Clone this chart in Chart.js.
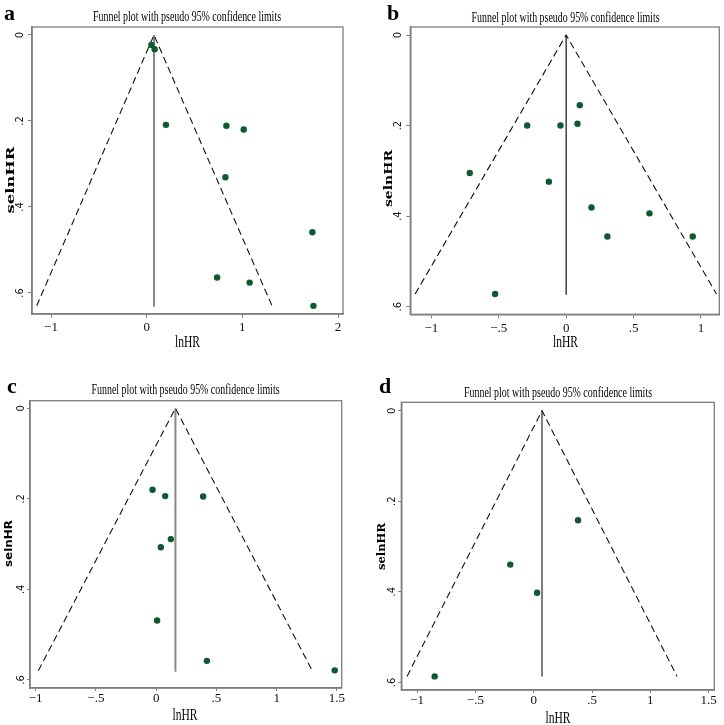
<!DOCTYPE html>
<html>
<head>
<meta charset="utf-8">
<script src="https://cdn.jsdelivr.net/npm/chart.js@4.4.1/dist/chart.umd.min.js"></script>
<style>
html, body { margin: 0; padding: 0; background: #fff; }
#wrap { position: relative; width: 724px; height: 725px; overflow: hidden; }
canvas { position: absolute; }
</style>
</head>
<body>
<div id="wrap">
  <canvas id="panelA" width="362" height="362" style="left:0;top:0"></canvas>
  <canvas id="panelB" width="362" height="362" style="left:362px;top:0"></canvas>
  <canvas id="panelC" width="362" height="385" style="left:0;top:340px"></canvas>
  <canvas id="panelD" width="362" height="385" style="left:362px;top:340px"></canvas>
</div>
<script>
// ** funnel plots, 4 panels **
var title = 'Funnel plot with pseudo 95% confidence limits';
var xName = 'lnHR';
var yName = 'selnHR';

// panel a
var lnHrA = [0.049, 0.083, 0.201, 0.833, 1.014, 0.823, 1.732, 0.736, 1.076, 1.743];
var seA = [0.023, 0.033, 0.209, 0.211, 0.220, 0.331, 0.459, 0.564, 0.576, 0.630];
var funnelA = [[-1.15, 0.63], [0.076, 0], [1.31, 0.63]];
var pooledA = [[0.076, 0], [0.076, 0.632]];
var xTicksA = [-1, 0, 1, 2];
var xLabelsA = ['\u22121', '0', '1', '2'];

// panel b
var lnHrB = [0.101, -0.289, -0.042, 0.084, -0.715, -0.128, 0.188, 0.618, 0.306, 0.939, -0.527];
var seB = [0.155, 0.200, 0.200, 0.196, 0.305, 0.324, 0.381, 0.394, 0.445, 0.445, 0.572];
var funnelB = [[-1.12, 0.572], [0, 0], [1.115, 0.572]];
var pooledB = [[0, 0], [0, 0.574]];
var xTicksB = [-1, -0.5, 0, 0.5, 1];
var xLabelsB = ['\u22121', '\u2212.5', '0', '.5', '1'];

// panel c
var lnHrC = [-0.030, 0.075, 0.390, 0.122, 0.039, 0.008, 0.421, 1.482];
var seC = [0.180, 0.194, 0.195, 0.289, 0.307, 0.469, 0.558, 0.579];
var funnelC = [[-0.978, 0.58], [0.16, 0], [1.296, 0.58]];
var pooledC = [[0.16, 0], [0.16, 0.582]];
var xTicksC = [-1, -0.5, 0, 0.5, 1, 1.5];
var xLabelsC = ['\u22121', '\u2212.5', '0', '.5', '1', '1.5'];

// panel d
var lnHrD = [0.380, -0.201, 0.029, -0.849];
var seD = [0.242, 0.340, 0.402, 0.587];
var funnelD = [[-1.086, 0.587], [0.071, 0], [1.229, 0.587]];
var pooledD = [[0.071, 0], [0.071, 0.587]];
var xTicksD = [-1, -0.5, 0, 0.5, 1, 1.5];
var xLabelsD = ['\u22121', '\u2212.5', '0', '.5', '1', '1.5'];

var yTicks = [0, 0.2, 0.4, 0.6];
var yLabels = ['0', '.2', '.4', '.6'];

var dotColor = '#0c5a2e';
var axisColor = '#7d7d7d';

function pts(pairs) {
  return pairs.map(function (p) { return { x: p[0], y: p[1] }; });
}

// draw text squeezed to a given width (Stata output is condensed)
function squeeze(ctx, text, x, y, font, width, align) {
  ctx.font = font;
  var w = ctx.measureText(text).width;
  var k = width ? width / w : 1;
  ctx.save();
  ctx.translate(x, y);
  ctx.scale(k, 1);
  ctx.textAlign = align;
  ctx.fillText(text, 0, 0);
  ctx.restore();
}

var frame = {
  id: 'frame',
  beforeDatasetsDraw: function (chart) {
    var a = chart.chartArea, ctx = chart.ctx;
    ctx.save();
    ctx.strokeStyle = axisColor;
    ctx.lineWidth = 1.3;
    ctx.strokeRect(a.left, a.top, a.right - a.left, a.bottom - a.top);
    ctx.restore();
  }
};

var panelText = {
  id: 'panelText',
  afterDraw: function (chart, args, o) {
    var ctx = chart.ctx;
    ctx.save();
    ctx.fillStyle = '#000';
    ctx.textBaseline = 'alphabetic';
    squeeze(ctx, o.letter, o.letterX, o.letterY, 'bold 22px "Liberation Serif"', 0, 'left');
    squeeze(ctx, title, o.titleX, o.titleY, '14.5px "Liberation Serif"', 188, 'center');
    squeeze(ctx, xName, o.xTitleX, o.xTitleY, '16px "Liberation Serif"', 25, 'center');
    ctx.save();
    ctx.translate(o.yTitleX, o.yTitleY);
    ctx.rotate(-Math.PI / 2);
    ctx.textBaseline = 'middle';
    squeeze(ctx, yName, 0, 0, o.yFont, o.yLen, 'center');
    ctx.restore();
    ctx.restore();
  }
};

function makePanel(id, p) {
  return new Chart(document.getElementById(id), {
    type: 'scatter',
    data: {
      datasets: [
        { data: p.xs.map(function (x, i) { return { x: x, y: p.ys[i] }; }),
          pointRadius: 3.2, backgroundColor: dotColor, borderWidth: 0 },
        { data: pts(p.funnel), showLine: true, borderColor: '#111', borderWidth: 1.1,
          borderDash: [7, 4], pointRadius: 0, fill: false },
        { data: pts(p.pooled), showLine: true, borderColor: p.midColor, borderWidth: p.midWidth,
          pointRadius: 0, fill: false }
      ]
    },
    options: {
      responsive: false,
      animation: false,
      events: [],
      layout: { padding: { left: 0, top: p.top, right: p.right, bottom: 0 } },
      plugins: {
        legend: { display: false },
        tooltip: { enabled: false },
        panelText: p.text
      },
      scales: {
        x: {
          type: 'linear', min: p.xMin, max: p.xMax,
          afterBuildTicks: function (s) { s.ticks = p.xTicks.map(function (v) { return { value: v }; }); },
          afterFit: function (s) { s.height = p.xAxisH; },
          ticks: {
            autoSkip: false, maxRotation: 0, padding: p.xPad, color: '#111',
            font: { family: '"Liberation Serif"', size: 13 },
            callback: function (v, i) { return p.xLabels[i]; }
          },
          grid: { drawOnChartArea: false, tickLength: p.tick, tickColor: axisColor, tickWidth: 1 },
          border: { color: axisColor, width: 1.5 }
        },
        y: {
          type: 'linear', reverse: true, min: p.yMin, max: p.yMax,
          afterBuildTicks: function (s) { s.ticks = yTicks.map(function (v) { return { value: v }; }); },
          afterFit: function (s) { s.width = p.yAxisW; },
          ticks: {
            autoSkip: false, minRotation: 90, maxRotation: 90, crossAlign: 'center',
            padding: p.yPad, color: '#111',
            font: { family: '"DejaVu Sans"', size: 10 },
            callback: function (v, i) { return yLabels[i]; }
          },
          grid: { drawOnChartArea: false, tickLength: p.tick, tickColor: axisColor, tickWidth: 1 },
          border: { color: axisColor, width: 1.5 }
        }
      }
    },
    plugins: [frame, panelText]
  });
}

makePanel('panelA', {
  xs: lnHrA, ys: seA, funnel: funnelA, pooled: pooledA,
  xTicks: xTicksA, xLabels: xLabelsA,
  xMin: -1.199, xMax: 2.052, yMin: -0.0186, yMax: 0.649,
  top: 27, right: 19, yAxisW: 32, xAxisH: 48, tick: 4, xPad: 2, yPad: 3,
  midColor: '#888', midWidth: 2,
  text: { letter: 'a', letterX: 4, letterY: 20, titleX: 187, titleY: 20.7,
          xTitleX: 187.5, xTitleY: 346.7, yTitleX: 11, yTitleY: 180, yLen: 67,
          yFont: 'bold 11px "DejaVu Serif"' }
});

makePanel('panelB', {
  xs: lnHrB, ys: seB, funnel: funnelB, pooled: pooledB,
  xTicks: xTicksB, xLabels: xLabelsB,
  xMin: -1.156, xMax: 1.136, yMin: -0.0177, yMax: 0.617,
  top: 27, right: 4.7, yAxisW: 48.3, xAxisH: 47.7, tick: 4, xPad: 2, yPad: 3,
  midColor: '#111', midWidth: 1.2,
  text: { letter: 'b', letterX: 25, letterY: 20, titleX: 203.5, titleY: 21.7,
          xTitleX: 203.5, xTitleY: 346.7, yTitleX: 27.5, yTitleY: 178.5, yLen: 57,
          yFont: 'bold 11px "DejaVu Serif"' }
});

makePanel('panelC', {
  xs: lnHrC, ys: seC, funnel: funnelC, pooled: pooledC,
  xTicks: xTicksC, xLabels: xLabelsC,
  xMin: -1.047, xMax: 1.54, yMin: -0.0168, yMax: 0.618,
  top: 60.7, right: 20.3, yAxisW: 30, xAxisH: 37, tick: 3, xPad: 0, yPad: 0.5,
  midColor: '#888', midWidth: 2,
  text: { letter: 'c', letterX: 7, letterY: 53, titleX: 185.5, titleY: 54,
          xTitleX: 185, xTitleY: 380, yTitleX: 9, yTitleY: 203.5, yLen: 47,
          yFont: 'bold 11px "DejaVu Sans"' }
});

makePanel('panelD', {
  xs: lnHrD, ys: seD, funnel: funnelD, pooled: pooledD,
  xTicks: xTicksD, xLabels: xLabelsD,
  xMin: -1.135, xMax: 1.548, yMin: -0.0186, yMax: 0.617,
  top: 62.3, right: 9.7, yAxisW: 39.3, xAxisH: 35, tick: 3, xPad: 0, yPad: 1.5,
  midColor: '#555', midWidth: 1.5,
  text: { letter: 'd', letterX: 17, letterY: 52.7, titleX: 196, titleY: 57.3,
          xTitleX: 196, xTitleY: 383, yTitleX: 20, yTitleY: 206.5, yLen: 47,
          yFont: 'bold 11px "DejaVu Serif"' }
});
</script>
</body>
</html>
